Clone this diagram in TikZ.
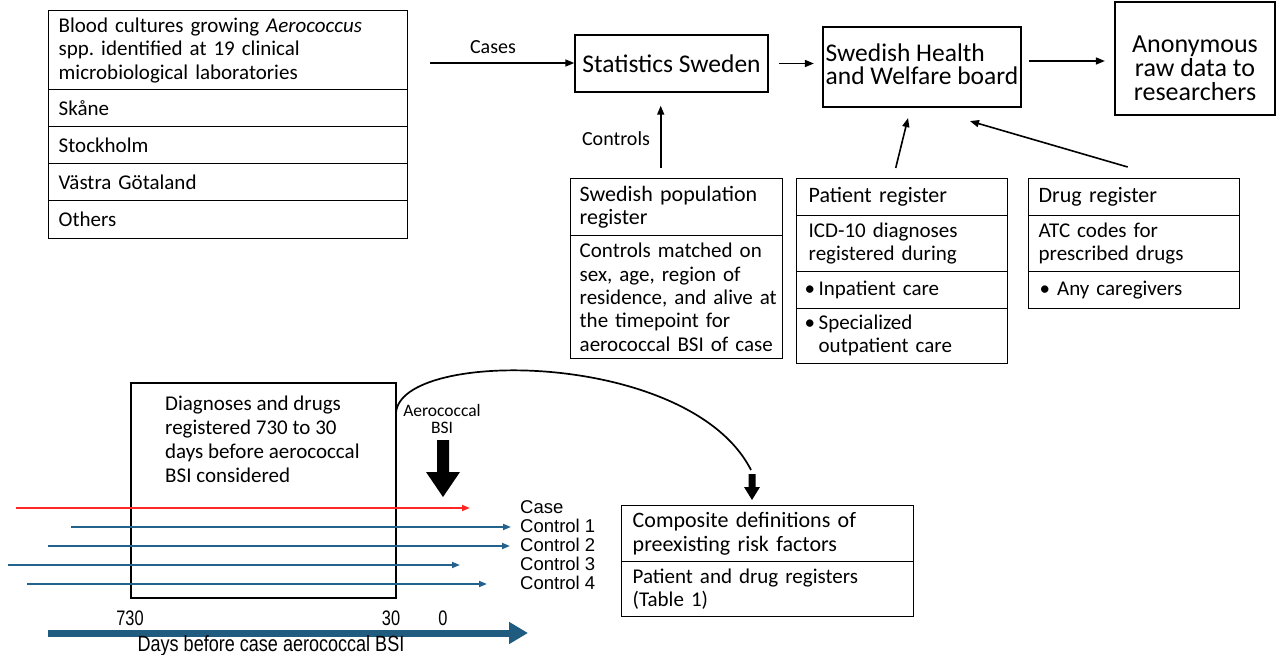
\documentclass[tikz,border=0pt]{standalone}
\usepackage{fontspec}
\setmainfont{Carlito}
\newfontfamily\arialf{Liberation Sans}
\usetikzlibrary{arrows.meta,calc}
\newcommand\fsz[2]{\fontsize{#1}{#2}\selectfont}
\definecolor{tlblue}{HTML}{22628C}
\definecolor{thickblue}{HTML}{1F5C80}
\definecolor{tlred}{HTML}{FF2626}
\begin{document}
\begin{tikzpicture}[x=1pt,y=-1pt,
  cell/.style={draw, line width=1.4pt, anchor=north west, align=left, inner xsep=10pt, inner ysep=0pt},
  bigbox/.style={draw, line width=2.2pt, inner sep=0pt},
  arr/.style={line width=1.6pt, -{Triangle[length=9pt,width=7pt]}},
  tline/.style={line width=1.7pt, tlblue, -{Triangle[length=8pt,width=6pt]}},
  lbl/.style={font=\arialf\fsz{18.5}{19}, anchor=west, inner sep=0pt},
  num/.style={inner sep=0pt, font=\arialf\fsz{21}{21}}
]
\useasboundingbox (0,0) rectangle (1278,655);

% ---- source box
\node[cell, minimum width=359pt, minimum height=79pt, text width=339pt, font=\fsz{21}{23.5}] (src) at (48,10)
  {Blood cultures growing \textit{Aerococcus}\\ spp.\ identified at 19 clinical\\ microbiological laboratories};
\node[cell, minimum width=359pt, minimum height=37pt, text width=339pt, font=\fsz{21}{23.5}] (sk) at (48,89) {Skåne};
\node[cell, minimum width=359pt, minimum height=37pt, text width=339pt, font=\fsz{21}{23.5}] (st) at (48,126) {Stockholm};
\node[cell, minimum width=359pt, minimum height=37pt, text width=339pt, font=\fsz{21}{23.5}] (vg) at (48,163) {Västra Götaland};
\node[cell, minimum width=359pt, minimum height=38pt, text width=339pt, font=\fsz{21}{23.5}] (ot) at (48,200) {Others};

% ---- top row
\node[draw, line width=1.4pt, minimum width=193pt, minimum height=57pt, inner sep=0pt, font=\fsz{25.5}{25}] (stat) at (671.5,63.5) {Statistics Sweden};
\node[bigbox, minimum width=198pt, minimum height=80pt, align=left, font=\fsz{25.5}{23.5}] (health) at (922,67) {Swedish Health\\and Welfare board\rule[-6pt]{0pt}{0pt}};
\node[bigbox, minimum width=160pt, minimum height=113pt, align=center, font=\fsz{26}{24}] (anon) at (1195,58.5) {\rule{0pt}{37pt}Anonymous\\raw data to\\researchers};

\coordinate (casesstart) at (430,63);
\draw[arr] (casesstart) -- (casesstart -| stat.west);
\node[font=\fsz{20}{20}, inner sep=0pt] (caseslbl) at (493,47) {Cases};
\draw[arr, shorten <=10pt, shorten >=8pt] (stat.east) -- (stat.east -| health.west);
\draw[arr, shorten <=7pt, shorten >=9pt] (health.east |- 0,61) -- (anon.west |- 0,61);

% ---- registers
\node[cell, minimum width=212pt, minimum height=57pt, text width=194pt, inner xsep=9pt, font=\fsz{22}{23.5}] (poph) at (570,178)
  {Swedish population\\register};
\node[cell, minimum width=212pt, minimum height=123pt, text width=194pt, inner xsep=9pt, font=\fsz{21}{23.3}] (popb) at (570,235)
  {\mbox{Controls matched on}\\\mbox{sex, age, region of}\\\mbox{residence, and alive at}\\\mbox{the timepoint for}\\\mbox{aerococcal BSI of case}};

\node[cell, minimum width=211pt, minimum height=37pt, text width=195pt, inner xsep=8pt, font=\fsz{22}{23.5}] (path) at (796,178) {\hspace*{4pt}Patient register};
\node[cell, minimum width=211pt, minimum height=56pt, text width=195pt, inner xsep=8pt, font=\fsz{21}{23.5}] (pati) at (796,215) {\hspace*{4pt}ICD-10 diagnoses\\\hspace*{4pt}registered during};
\node[cell, minimum width=211pt, minimum height=37pt, text width=195pt, inner xsep=8pt, font=\fsz{21}{23.5}] (patin) at (796,271) {\textbullet\,Inpatient care};
\node[cell, minimum width=211pt, minimum height=55pt, text width=195pt, inner xsep=8pt, font=\fsz{21}{23}] (patsp) at (796,308)
  {\begin{tabular}{@{}l@{\,}l@{}}\textbullet & Specialized\\ & outpatient care\end{tabular}};

\node[cell, minimum width=211pt, minimum height=37pt, text width=195pt, inner xsep=8pt, font=\fsz{22}{23.5}] (drh) at (1028,178) {\hspace*{2pt}Drug register};
\node[cell, minimum width=211pt, minimum height=56pt, text width=195pt, inner xsep=8pt, font=\fsz{21}{23.5}] (dra) at (1028,215) {\hspace*{2pt}ATC codes for\\\hspace*{2pt}prescribed drugs};
\node[cell, minimum width=211pt, minimum height=37pt, text width=195pt, inner xsep=8pt, font=\fsz{21}{23.5}] (dran) at (1028,271) {\hspace*{3pt}\textbullet\ Any caregivers};

\draw[arr, shorten <=10pt, shorten >=13pt] ([xshift=-16pt]poph.north) -- ([xshift=-16pt]poph.north |- stat.south);
\node[font=\fsz{20}{20}, inner sep=0pt] (ctrllbl) at (616,139) {Controls};
\draw[arr] ($(path.north)+(-6.5,-10)$) -- ($(health.south)+(-14,10)$);
\draw[arr] ($(drh.north)+(-6.5,-11)$) -- ($(health.south)+(48,13)$);

% ---- timeline
\node[bigbox, minimum width=265pt, minimum height=215pt] (win) at (263.5,490.5) {};
\node[anchor=north west, align=left, inner sep=0pt, font=\fsz{21}{24}] (wintext) at (165,396)
  {Diagnoses and drugs\\registered 730 to 30\\days before aerococcal\\BSI considered};

\node[align=center, inner sep=0pt, font=\fsz{17.5}{17}] (aero) at (442,419) {Aerococcal\\BSI};
\fill (437,440) -- (449,440) -- (449,472) -- (460,472) -- (443,497) -- (426,472) -- (437,472) -- cycle;

\draw[line width=1.7pt, tlred, -{Triangle[length=8pt,width=6pt]}] (16,508) -- (470,508);
\draw[tline] (71,527) -- (511,527);
\draw[tline] (48,546) -- (510,546);
\draw[tline] (8,565) -- (460,565);
\draw[tline] (27,584) -- (487,584);
\node[lbl] (lcase) at (520,507) {Case};
\node[lbl] (lc1) at (520,526) {Control 1};
\node[lbl] (lc2) at (520,545) {Control 2};
\node[lbl] (lc3) at (520,564) {Control 3};
\node[lbl] (lc4) at (520,583) {Control 4};

\node[num] (n730) at (130,618) {\scalebox{0.78}[1]{730}};
\node[num] (n30) at (391,618) {\scalebox{0.78}[1]{30}};
\node[num] (n0) at (443,618) {\scalebox{0.78}[1]{0}};
\draw[line width=7pt, thickblue, -{Triangle[length=19pt,width=21pt]}] (48,633) -- (528,633);
\node[inner sep=0pt, font=\arialf\fsz{22}{22}] (days) at (271,646) {\scalebox{0.82}[1]{Days before case aerococcal BSI}};

% ---- composite
\node[cell, minimum width=292pt, minimum height=56pt, text width=270pt, inner xsep=11pt, font=\fsz{22}{23.5}] (comph) at (621,505)
  {Composite definitions of\\preexisting risk factors};
\node[cell, minimum width=292pt, minimum height=55pt, text width=270pt, inner xsep=11pt, font=\fsz{21}{23.5}] (compb) at (621,561)
  {Patient and drug registers\\(Table 1)};

\coordinate (curvestart) at (396,413);
\coordinate (curveend) at (751,470);
\draw[line width=1.7pt] (curvestart) .. controls (400,348) and (690,350) .. (curveend);
\fill (748.5,474) -- (755.5,474) -- (755.5,487) -- (760,487) -- (752,500) -- (744,487) -- (748.5,487) -- cycle;
\end{tikzpicture}
\end{document}
